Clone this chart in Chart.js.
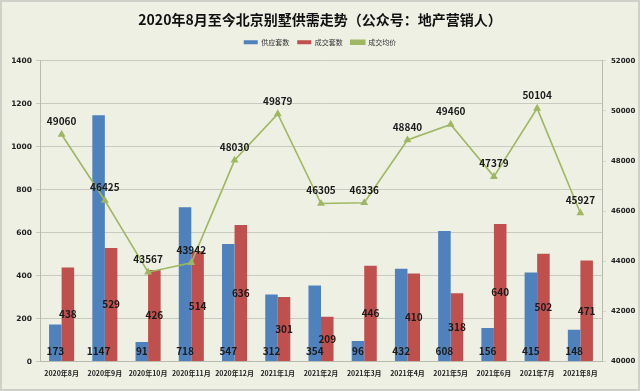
<!DOCTYPE html>
<html>
<head>
<meta charset="utf-8">
<script src="https://cdn.jsdelivr.net/npm/chart.js@4/dist/chart.umd.min.js"></script>
<style>
  html, body { margin: 0; padding: 0; background: #d9dbd2; }
  #wrap {
    width: 640px; height: 391px; box-sizing: border-box;
    border: 2px solid #cfd1c8; background: #eef0e4; position: relative;
  }
  canvas { display: block; }
</style>
</head>
<body>
<div id="wrap"><canvas id="chart" width="636" height="387"></canvas></div>
<script>
const months = ['2020年8月', '2020年9月', '2020年10月', '2020年11月', '2020年12月',
  '2021年1月', '2021年2月', '2021年3月', '2021年4月', '2021年5月',
  '2021年6月', '2021年7月', '2021年8月'];
const supply = [173, 1147, 91, 718, 547, 312, 354, 96, 432, 608, 156, 415, 148];
const deals = [438, 529, 426, 514, 636, 301, 209, 446, 410, 318, 640, 502, 471];
const avgPrice = [49060, 46425, 43567, 43942, 48030, 49879, 46305, 46336, 48840, 49460, 47379, 50104, 45927];

const labelFont = 'bold 10px "Noto Sans CJK SC", "DejaVu Sans", sans-serif';
const cjk = '"Noto Sans CJK SC", sans-serif';

// value labels: supply at bar foot, deals mid-bar, price above point
const valueLabels = {
  id: 'valueLabels',
  afterDatasetsDraw(chart) {
    const { ctx } = chart;
    ctx.save();
    ctx.font = labelFont;
    ctx.fillStyle = '#1a1a1a';
    ctx.textAlign = 'center';
    ctx.textBaseline = 'middle';
    chart.getDatasetMeta(0).data.forEach((bar, i) => {
      ctx.fillText(supply[i], bar.x, bar.base - 10);
    });
    chart.getDatasetMeta(1).data.forEach((bar, i) => {
      ctx.fillText(deals[i], bar.x, (bar.y + bar.base) / 2);
    });
    chart.getDatasetMeta(2).data.forEach((pt, i) => {
      ctx.fillText(avgPrice[i], pt.x, pt.y - 13);
    });
    ctx.restore();
  }
};

// a bit of extra room under the legend
const legendGap = {
  id: 'legendGap',
  beforeInit(chart) {
    const fit = chart.legend.fit;
    chart.legend.fit = function () {
      fit.call(this);
      this.height += 5;
    };
  }
};

new Chart(document.getElementById('chart'), {
  data: {
    labels: months,
    datasets: [
      {
        type: 'bar', label: '供应套数', data: supply,
        backgroundColor: '#4f81bd', yAxisID: 'y', order: 2,
        categoryPercentage: 0.58, barPercentage: 1
      },
      {
        type: 'bar', label: '成交套数', data: deals,
        backgroundColor: '#c0504d', yAxisID: 'y', order: 2,
        categoryPercentage: 0.58, barPercentage: 1
      },
      {
        type: 'line', label: '成交均价', data: avgPrice,
        borderColor: '#9fb762', backgroundColor: '#9fb762', borderWidth: 1.6,
        pointStyle: 'triangle', pointRadius: 3, yAxisID: 'y1', order: 1,
        tension: 0
      }
    ]
  },
  options: {
    responsive: false,
    animation: false,
    layout: { padding: { left: 0, right: 0, top: 0, bottom: 3 } },
    plugins: {
      title: {
        display: true,
        text: '2020年8月至今北京别墅供需走势（公众号：地产营销人）',
        color: '#111',
        font: { size: 14, weight: 'bold', family: cjk },
        padding: { top: 9, bottom: 3 }
      },
      legend: {
        display: true,
        labels: {
          color: '#333',
          font: { size: 7, family: cjk },
          boxWidth: 14, boxHeight: 4, padding: 8,
          sort: (a, b) => a.datasetIndex - b.datasetIndex
        }
      },
      tooltip: { enabled: false }
    },
    scales: {
      x: {
        grid: { display: false, drawTicks: false },
        border: { color: '#b8bab0' },
        ticks: {
          color: '#222', maxRotation: 0, autoSkip: false, padding: 8,
          font: { size: 7, weight: 'bold', family: cjk }
        }
      },
      y: {
        position: 'left', min: 0, max: 1400,
        grid: { color: '#c8cabf', tickLength: 4 },
        border: { color: '#b8bab0' },
        ticks: {
          stepSize: 200, color: '#222', padding: 4,
          font: { size: 7.5, weight: 'bold', family: '"DejaVu Sans", sans-serif' },
          callback: v => String(v)
        },
        afterFit(scale) { scale.width = 38; }
      },
      y1: {
        position: 'right', min: 40000, max: 52000,
        grid: { drawOnChartArea: false, tickLength: 4 },
        border: { color: '#b8bab0' },
        ticks: {
          stepSize: 2000, color: '#222', padding: 5,
          font: { size: 7, weight: 'bold', family: '"DejaVu Sans", sans-serif' },
          callback: v => String(v)
        },
        afterFit(scale) { scale.width = 36; }
      }
    }
  },
  plugins: [valueLabels, legendGap]
});
</script>
</body>
</html>
